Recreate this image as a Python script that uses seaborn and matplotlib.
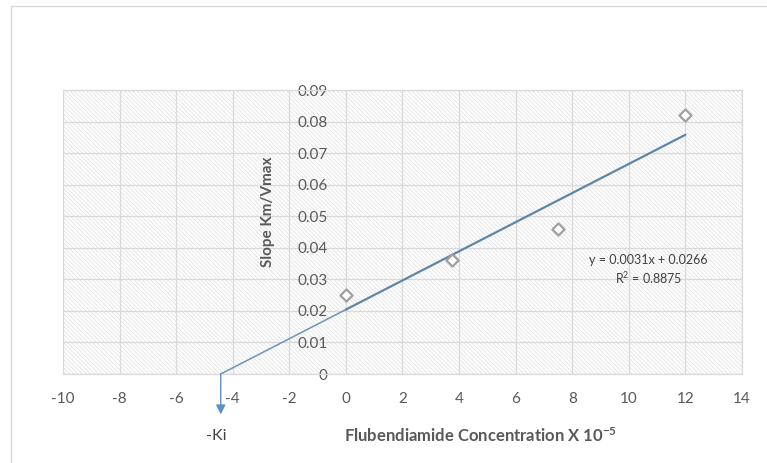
import numpy as np
import pandas as pd
import seaborn as sns
import matplotlib.pyplot as plt
from matplotlib.patches import Rectangle
from matplotlib.lines import Line2D

# data
conc = [0, 3.75, 7.5, 12]
slope = [0.025, 0.036, 0.046, 0.082]
xticks = [-10, -8, -6, -4, -2, 0, 2, 4, 6, 8, 10, 12, 14]
yticks = [0, 0.01, 0.02, 0.03, 0.04, 0.05, 0.06, 0.07, 0.08, 0.09]
eq_text = "y = 0.0031x + 0.0266\nR$^2$ = 0.8875"

df = pd.DataFrame({"conc": conc, "slope": slope})

sns.set_style("white")
plt.rcParams['font.family'] = ['Lato', 'DejaVu Sans']
plt.rcParams['mathtext.default'] = 'regular'
plt.rcParams['axes.unicode_minus'] = False
plt.rcParams['hatch.linewidth'] = 0.5

txt = '#595959'
grid = '#d9d9d9'

fig = plt.figure(figsize=(7.67, 4.63), dpi=100)
ax = fig.add_axes([63/767, 1 - 374/463, 679/767, 284/463])

# hatched plot area
ax.add_patch(Rectangle((0, 0), 1, 1, transform=ax.transAxes, facecolor='white',
                       edgecolor='#dedede', hatch='\\' * 8, lw=0, zorder=0.1))

ax.set_xlim(-10, 14)
ax.set_ylim(0, 0.09)
ax.set_xticks(xticks)
ax.set_yticks(yticks)
ax.set_yticklabels(["0" if v == 0 else f"{v:.2f}" for v in yticks])
ax.grid(True, color=grid, lw=0.9)
ax.set_axisbelow(True)

for s in ax.spines.values():
    s.set_color(grid)
    s.set_linewidth(0.9)
# y axis labels sit at x = 0, spine itself hidden (grid line at -10 gives edge)
ax.spines['left'].set_position(('data', 0))
ax.spines['left'].set_color('none')

ax.tick_params(axis='both', length=0, labelsize=11, labelcolor=txt)
ax.tick_params(axis='x', pad=13)
ax.tick_params(axis='y', pad=13)

# linear fit drawn from the x-intercept to last point
m, b = np.polyfit(df["conc"], df["slope"], 1)
xk = -b / m
ax.plot([xk, 0], [0, b], color='#6e94b8', lw=1.1, zorder=3, solid_capstyle='round')
ax.plot([0, max(conc)], [b, m * max(conc) + b], color='#5f86a8', lw=1.6, zorder=3)

sns.scatterplot(data=df, x="conc", y="slope", ax=ax, marker='D', s=38,
                facecolor='white', edgecolor='#a0a0a0', linewidth=1.6, zorder=4)

ax.annotate('', xy=(xk, -0.0128), xytext=(xk, 0), annotation_clip=False,
            arrowprops=dict(arrowstyle='-|>', color='#5b8fc8', lw=1.0,
                            mutation_scale=14, shrinkA=0, shrinkB=0))
ax.text(xk - 0.15, -0.0196, "-Ki", ha='center', va='center', fontsize=11.5,
        color='#404040', clip_on=False)

ax.text(10.7, 0.033, eq_text, ha='center', va='center', fontsize=9,
        color='#404040', linespacing=1.25)

ax.set_xlabel("Flubendiamide Concentration X 10$^{-5}$", fontsize=12,
              fontweight='bold', color=txt)
ax.xaxis.set_label_coords((481 - 63) / 679, (374 - 436) / 284)
ax.xaxis.label.set_va('center')
ax.set_ylabel("Slope Km/Vmax", fontsize=11, fontweight='bold', color=txt)
ax.yaxis.set_label_coords((268 - 63) / 679, (374 - 212) / 284)
ax.yaxis.label.set_va('center')

# outer chart frame (top and left edges visible)
fig.add_artist(Line2D([11/767, 1], [1 - 6/463, 1 - 6/463], color=grid, lw=1))
fig.add_artist(Line2D([11/767, 11/767], [0, 1 - 6/463], color=grid, lw=1))

fig.savefig("out.png", dpi=100)
